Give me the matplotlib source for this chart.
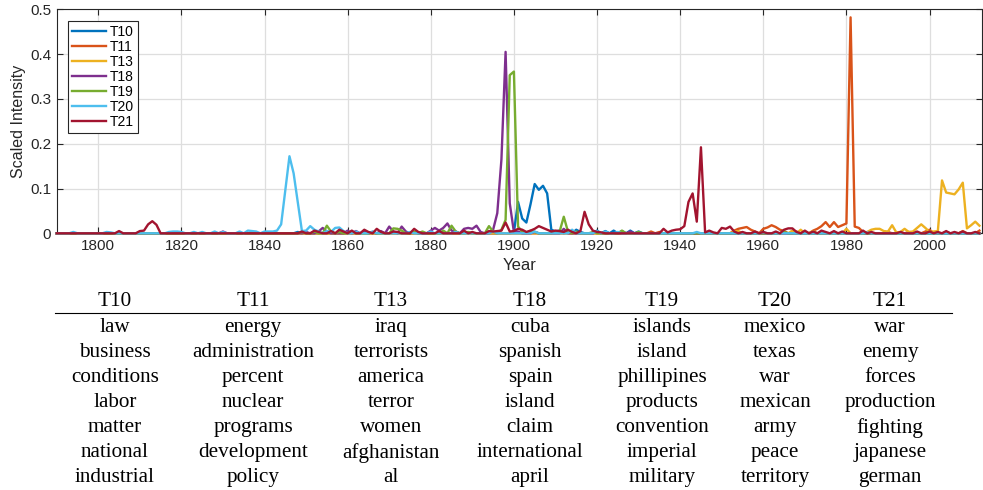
import numpy as np
import matplotlib
matplotlib.use("Agg")
import matplotlib.pyplot as plt
from matplotlib.ticker import FuncFormatter

# topic intensity per year; years not listed are zero
years = np.arange(1790, 2013)

t10_pts = {1848: 0.003, 1900: 0.002, 1901: 0.07, 1902: 0.033, 1903: 0.024, 1904: 0.065,
           1905: 0.11, 1906: 0.097, 1907: 0.106, 1908: 0.089, 1909: 0.008, 1910: 0.004,
           1911: 0.006, 1913: 0.004, 1915: 0.008, 1916: 0.003, 1920: 0.006, 1922: 0.005,
           1924: 0.006, 1926: 0.005, 1928: 0.006, 1930: 0.004}

t11_pts = {1933: 0.004, 1935: 0.003, 1953: 0.006, 1954: 0.01, 1955: 0.012, 1956: 0.014,
           1957: 0.008, 1958: 0.004, 1960: 0.01, 1961: 0.013, 1962: 0.018, 1963: 0.014,
           1964: 0.008, 1965: 0.005, 1968: 0.004, 1970: 0.003, 1972: 0.006, 1973: 0.01,
           1974: 0.016, 1975: 0.025, 1976: 0.014, 1977: 0.025, 1978: 0.014, 1979: 0.018,
           1980: 0.022, 1981: 0.482, 1982: 0.015, 1983: 0.012, 1984: 0.003, 1990: 0.003,
           1995: 0.003, 1999: 0.004, 2000: 0.008, 2004: 0.003, 2008: 0.005, 2012: 0.006}

t13_pts = {1953: 0.004, 1954: 0.005, 1967: 0.006, 1969: 0.008, 1972: 0.005, 1980: 0.01,
           1985: 0.003, 1986: 0.008, 1987: 0.01, 1988: 0.01, 1989: 0.005, 1990: 0.004,
           1991: 0.018, 1992: 0.002, 1993: 0.003, 1994: 0.01, 1995: 0.003, 1996: 0.004,
           1997: 0.012, 1998: 0.02, 1999: 0.012, 2000: 0.003, 2001: 0.004, 2002: 0.005,
           2003: 0.118, 2004: 0.091, 2005: 0.089, 2006: 0.087, 2007: 0.098, 2008: 0.113,
           2009: 0.011, 2010: 0.018, 2011: 0.026, 2012: 0.017}

t18_pts = {1830: 0.004, 1850: 0.003, 1853: 0.004, 1854: 0.012, 1855: 0.004, 1860: 0.006,
           1862: 0.005, 1864: 0.004, 1866: 0.003, 1868: 0.005, 1870: 0.015, 1871: 0.004,
           1873: 0.015, 1874: 0.004, 1876: 0.003, 1880: 0.006, 1881: 0.012, 1882: 0.006,
           1883: 0.012, 1884: 0.022, 1885: 0.006, 1886: 0.004, 1888: 0.01, 1889: 0.012,
           1890: 0.01, 1891: 0.017, 1892: 0.003, 1895: 0.008, 1896: 0.045, 1897: 0.165,
           1898: 0.405, 1899: 0.067, 1900: 0.003, 1901: 0.004, 1905: 0.003, 1912: 0.01,
           1920: 0.004, 1928: 0.004}

t19_pts = {1849: 0.003, 1852: 0.004, 1855: 0.017, 1856: 0.004, 1858: 0.003, 1861: 0.004,
           1866: 0.003, 1871: 0.011, 1872: 0.01, 1873: 0.006, 1876: 0.004, 1878: 0.004,
           1883: 0.006, 1885: 0.017, 1886: 0.004, 1889: 0.003, 1894: 0.016, 1895: 0.004,
           1897: 0.008, 1898: 0.03, 1899: 0.353, 1900: 0.361, 1901: 0.015, 1902: 0.004,
           1904: 0.006, 1905: 0.003, 1910: 0.005, 1911: 0.004, 1912: 0.037, 1913: 0.004,
           1915: 0.004, 1919: 0.003, 1926: 0.006, 1930: 0.003, 1965: 0.003}

t20_pts = {1794: 0.003, 1802: 0.003, 1803: 0.002, 1817: 0.003, 1818: 0.004, 1819: 0.004,
           1820: 0.003, 1823: 0.003, 1825: 0.003, 1828: 0.004, 1830: 0.003, 1834: 0.004,
           1836: 0.006, 1837: 0.005, 1838: 0.004, 1840: 0.004, 1841: 0.004, 1842: 0.004,
           1843: 0.006, 1844: 0.02, 1845: 0.095, 1846: 0.172, 1847: 0.134, 1848: 0.07,
           1849: 0.005, 1850: 0.006, 1851: 0.016, 1852: 0.008, 1853: 0.004, 1855: 0.005,
           1856: 0.003, 1857: 0.012, 1858: 0.013, 1859: 0.005, 1862: 0.004, 1866: 0.004,
           1875: 0.003, 1880: 0.004, 1886: 0.003, 1895: 0.004, 1905: 0.004, 1914: 0.008,
           1920: 0.005, 1922: 0.004, 1925: 0.003, 1944: 0.003, 1960: 0.002, 1985: 0.002}

t21_pts = {1805: 0.005, 1810: 0.005, 1811: 0.006, 1812: 0.02, 1813: 0.027, 1814: 0.019,
           1849: 0.004, 1852: 0.006, 1853: 0.003, 1856: 0.005, 1858: 0.008, 1859: 0.004,
           1861: 0.006, 1864: 0.008, 1865: 0.003, 1867: 0.01, 1868: 0.003, 1871: 0.004,
           1872: 0.003, 1876: 0.01, 1877: 0.003, 1882: 0.005, 1888: 0.006, 1890: 0.003,
           1894: 0.005, 1895: 0.004, 1896: 0.005, 1897: 0.006, 1898: 0.024, 1899: 0.004,
           1900: 0.005, 1901: 0.01, 1902: 0.008, 1903: 0.003, 1904: 0.006, 1905: 0.01,
           1906: 0.016, 1907: 0.012, 1908: 0.008, 1909: 0.004, 1910: 0.006, 1911: 0.005,
           1912: 0.003, 1913: 0.008, 1914: 0.003, 1916: 0.005, 1917: 0.048, 1918: 0.02,
           1919: 0.006, 1920: 0.003, 1921: 0.002, 1936: 0.01, 1937: 0.002, 1938: 0.006,
           1939: 0.008, 1940: 0.009, 1941: 0.016, 1942: 0.07, 1943: 0.089, 1944: 0.026,
           1945: 0.192, 1946: 0.002, 1947: 0.006, 1948: 0.002, 1950: 0.012, 1951: 0.01,
           1952: 0.015, 1953: 0.004, 1955: 0.003, 1958: 0.004, 1960: 0.003, 1963: 0.004,
           1965: 0.008, 1966: 0.011, 1967: 0.011, 1968: 0.003, 1970: 0.006, 1972: 0.004,
           1974: 0.006, 1975: 0.003, 1977: 0.005, 1979: 0.004, 1984: 0.006, 1986: 0.003,
           1993: 0.003, 1997: 0.004, 2000: 0.004, 2002: 0.003, 2004: 0.005, 2006: 0.003,
           2008: 0.004, 2011: 0.003}

topics = ["T10", "T11", "T13", "T18", "T19", "T20", "T21"]
topic_pts = [t10_pts, t11_pts, t13_pts, t18_pts, t19_pts, t20_pts, t21_pts]
colors = ["#0072BD", "#D95319", "#EDB120", "#7E2F8E", "#77AC30", "#4DBEEE", "#A2142F"]

# top words of each topic
top_words = [
    ["law", "business", "conditions", "labor", "matter", "national", "industrial"],
    ["energy", "administration", "percent", "nuclear", "programs", "development", "policy"],
    ["iraq", "terrorists", "america", "terror", "women", "afghanistan", "al"],
    ["cuba", "spanish", "spain", "island", "claim", "international", "april"],
    ["islands", "island", "phillipines", "products", "convention", "imperial", "military"],
    ["mexico", "texas", "war", "mexican", "army", "peace", "territory"],
    ["war", "enemy", "forces", "production", "fighting", "japanese", "german"],
]


def to_series(pts):
    s = np.zeros(len(years))
    for yr, v in pts.items():
        s[yr - years[0]] = v
    return s


W, H = 983, 490
fig = plt.figure(figsize=(W / 100, H / 100), dpi=100)
ax = fig.add_axes([56.7 / W, 1 - 233.3 / H, (981.5 - 56.7) / W, (233.3 - 9.3) / H])

axcol = "#262626"
for name, pts, c in zip(topics, topic_pts, colors):
    ax.plot(years, to_series(pts), color=c, lw=1.7, label=name, clip_on=False, zorder=3)

ax.set_xlim(1790, 2012.5)
ax.set_ylim(0, 0.5)
ax.set_xticks(np.arange(1800, 2001, 20))
ax.set_yticks(np.arange(0, 0.51, 0.1))
ax.yaxis.set_major_formatter(FuncFormatter(lambda v, p: "0" if abs(v) < 1e-9 else "%g" % round(v, 1)))
ax.grid(True, color="#dedede", lw=0.9, zorder=0)
ax.set_axisbelow(True)
ax.tick_params(direction="in", length=4.5, width=0.8, colors=axcol, labelsize=11,
               top=True, right=True, pad=4)
for sp in ax.spines.values():
    sp.set_color(axcol)
    sp.set_linewidth(0.8)

for lab in ax.get_xticklabels() + ax.get_yticklabels():
    lab.set_family("Liberation Sans")
ax.set_xlabel("Year", fontsize=12, family="Liberation Sans", color=axcol, labelpad=4)
ax.set_ylabel("Scaled Intensity", fontsize=11.5, family="Liberation Sans", color=axcol, labelpad=3)

leg = ax.legend(loc="upper left", bbox_to_anchor=(67.7 / W, 1 - 20.7 / H),
                bbox_transform=fig.transFigure, borderaxespad=0, fancybox=False,
                framealpha=1, edgecolor=axcol, handlelength=2.5, handletextpad=0.25,
                labelspacing=0.08, borderpad=0.28, prop={"family": "Liberation Sans", "size": 10})
leg.get_frame().set_linewidth(0.8)

# word table below the plot
col_x = [115, 253, 391, 530, 662, 775, 890]
tfont = dict(family="Liberation Serif", fontsize=15.2, ha="center", va="center", color="black")
for cx, name, words in zip(col_x, topics, top_words):
    fig.text(cx / W, 1 - 301 / H, name, **tfont)
    for i, w in enumerate(words):
        fig.text(cx / W, 1 - (327.3 + 25.1 * i) / H, w, **tfont)
fig.add_artist(plt.Line2D([55 / W, 952 / W], [1 - 312.5 / H] * 2, color="black", lw=0.8))

fig.savefig("out.png", dpi=100)
